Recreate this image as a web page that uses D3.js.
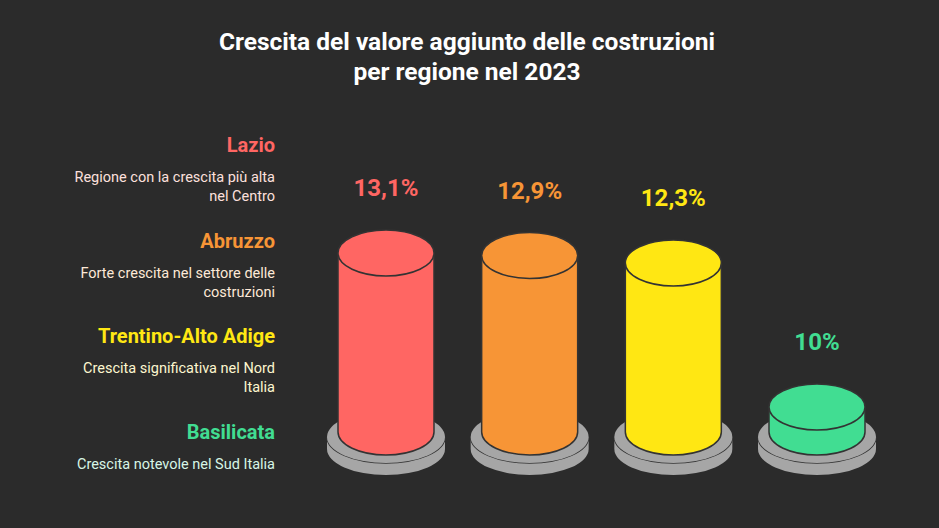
<!DOCTYPE html><html><head><meta charset="utf-8"><script src="https://cdn.jsdelivr.net/npm/d3@7"></script>
<style>body{margin:0;background:#2b2b2b}</style></head><body><script>
const regions=["Lazio","Abruzzo","Trentino-Alto Adige","Basilicata"];
const values=[13.1,12.9,12.3,10];
const labels=["13,1%","12,9%","12,3%","10%"];
const descriptions=[["Regione con la crescita più alta","nel Centro"],["Forte crescita nel settore delle","costruzioni"],["Crescita significativa nel Nord","Italia"],["Crescita notevole nel Sud Italia"]];
const colors=["#ff6663","#f79536","#ffe713","#41dd92"];
const descColors=["#fde0dd","#fde9d7","#fdf7cf","#d7f6e6"];
const W=939,H=528;
const svg=d3.select("body").append("svg").attr("width",W).attr("height",H).style("font-family","Roboto");
svg.append("rect").attr("width",W).attr("height",H).attr("fill","#2b2b2b");
svg.append("text").attr("x",467).attr("y",50).attr("text-anchor","middle").attr("fill","#fff").attr("font-size",24.5).attr("font-weight",700).text("Crescita del valore aggiunto delle costruzioni");
svg.append("text").attr("x",467).attr("y",80).attr("text-anchor","middle").attr("fill","#fff").attr("font-size",24.5).attr("font-weight",700).text("per regione nel 2023");
const x=d3.scalePoint().domain(regions).range([386,817]);
const y=d3.scaleLinear().domain([9.6,12.3,13.1]).range([432,263,253]);
const rx=48,ry=23,brx=59,bry=26,ground=432;
regions.forEach((r,i)=>{
  const cx=x(r),top=y(values[i]);
  const g=svg.append("g");
  g.append("path").attr("d",`M${cx-brx},${ground+5}A${brx},${bry} 0 0 0 ${cx+brx},${ground+5}L${cx+brx},${ground+17}A${brx},${bry} 0 0 1 ${cx-brx},${ground+17}Z`).attr("fill","#a6a6a6");
  g.append("path").attr("d",`M${cx-brx},${ground+5}A${brx},${bry} 0 0 0 ${cx+brx},${ground+5}`).attr("fill","none").attr("stroke","#333").attr("stroke-width",1.5);
  g.append("ellipse").attr("cx",cx).attr("cy",ground+5).attr("rx",brx).attr("ry",bry).attr("fill","#a6a6a6");
  g.append("path").attr("d",`M${cx-rx},${top}L${cx-rx},${ground}A${rx},${ry} 0 0 0 ${cx+rx},${ground}L${cx+rx},${top}Z`).attr("fill",colors[i]).attr("stroke","#333").attr("stroke-width",1.5);
  g.append("ellipse").attr("cx",cx).attr("cy",top).attr("rx",rx).attr("ry",ry).attr("fill",colors[i]).attr("stroke","#333").attr("stroke-width",1.5);
  svg.append("text").attr("x",cx).attr("y",top-57).attr("text-anchor","middle").attr("fill",colors[i]).attr("font-size",24).attr("font-weight",700).text(labels[i]);
  const ty=152+i*95.7;
  svg.append("text").attr("x",275).attr("y",ty).attr("text-anchor","end").attr("fill",colors[i]).attr("font-size",20).attr("font-weight",700).text(r);
  descriptions[i].forEach((l,j)=>svg.append("text").attr("x",275).attr("y",ty+30+j*19).attr("text-anchor","end").attr("fill",descColors[i]).attr("font-size",14.5).text(l));
});
</script></body></html>
